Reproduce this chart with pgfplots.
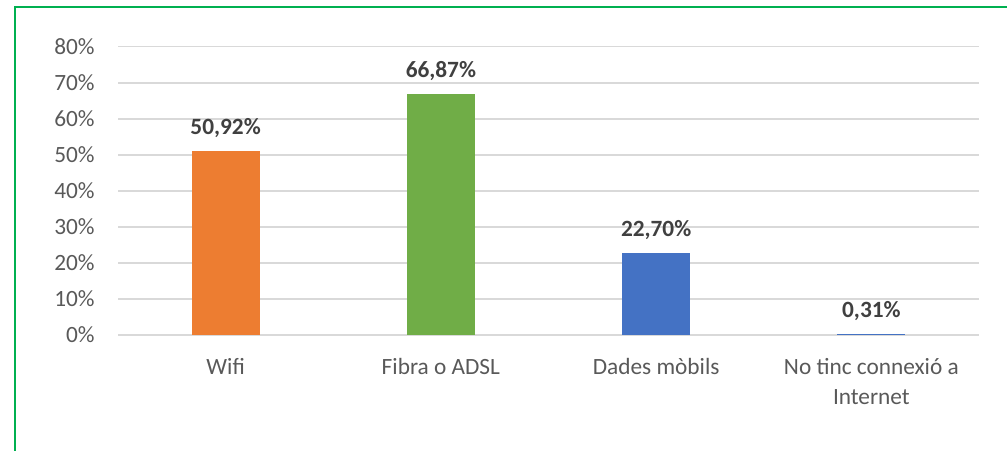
\documentclass[border=0pt]{standalone}
\usepackage{fontspec}
\setmainfont{Carlito}
\usepackage{pgfplots}
\pgfplotsset{compat=1.18}
\pgfkeys{/pgf/number format/.cd, assume math mode=true}
\definecolor{borderg}{HTML}{00B050}
\definecolor{gridg}{HTML}{D9D9D9}
\definecolor{tickg}{HTML}{595959}
\definecolor{labg}{HTML}{404040}
\definecolor{c1}{HTML}{ED7D31}
\definecolor{c2}{HTML}{70AD47}
\definecolor{c3}{HTML}{4472C4}
\newcommand{\tf}{\fontsize{11.7}{15}\selectfont}
\begin{document}
\begin{tikzpicture}[x=1bp,y=1bp]
\useasboundingbox (0,0) rectangle (503.5,225);
\draw[borderg, line width=1.1bp] (7.4,-2) -- (7.4,221.4) -- (510,221.4);
\begin{axis}[
  at={(59bp,57.5bp)}, anchor=south west,
  scale only axis, width=430.5bp, height=144.15bp,
  xmin=-0.5, xmax=3.5, ymin=0, ymax=80,
  ybar, bar width=34bp, bar shift=0pt,
  axis line style={draw=none},
  major tick length=0pt,
  ymajorgrids, grid style={color=gridg, line width=0.8bp},
  ytick={0,10,...,80},
  yticklabel={\pgfmathprintnumber{\tick}\%},
  yticklabel style={font=\tf, text=tickg, anchor=base east, inner sep=0pt, xshift=-11.5bp, yshift=-3.7bp},
  xtick={0,1,2,3},
  xticklabels={Wifi, Fibra o ADSL, Dades mòbils, {No tinc connexió a\\Internet}},
  xticklabel style={font=\tf, text=tickg, align=center, anchor=north, inner sep=0pt, yshift=-11.3bp},
  nodes near coords={\pgfmathprintnumber[fixed,fixed zerofill,precision=2,use comma]{\pgfplotspointmeta}\%},
  every node near coord/.append style={font=\tf\bfseries, text=labg, anchor=base, inner sep=0pt, yshift=8.3bp},
  clip=false,
]
\addplot[fill=c1, draw=none] coordinates {(0,50.92)};
\addplot[fill=c2, draw=none] coordinates {(1,66.87)};
\addplot[fill=c3, draw=none] coordinates {(2,22.70)};
\addplot[fill=c3, draw=none] coordinates {(3,0.31)};
\end{axis}
\end{tikzpicture}
\end{document}
